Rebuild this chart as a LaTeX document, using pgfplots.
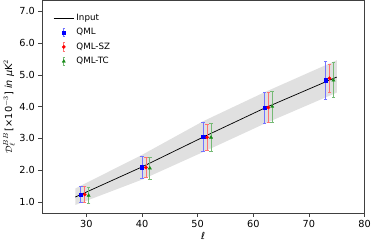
\documentclass[border=0pt]{standalone}
\usepackage{pgfplots}
\pgfplotsset{compat=1.18}
\usepackage{fontspec}
\setmainfont{DejaVu Sans}
\definecolor{bandgray}{gray}{0.88}
\definecolor{qgreen}{rgb}{0.1,0.55,0.1}
\colorlet{eblue}{blue!55!white}
\colorlet{ered}{red!55!white}
\colorlet{egreen}{qgreen!60!white}
\pgfplotsset{
  ebarlegend/.style={
    legend image code/.code={
      \draw[draw=#1, line width=0.8pt] (0.35cm,-4pt)--(0.35cm,4pt);
      \draw[draw=#1, line width=0.6pt] (0.31cm,-4pt)--(0.39cm,-4pt) (0.31cm,4pt)--(0.39cm,4pt);
      \draw[mark repeat=2,mark phase=2,##1] plot coordinates {(0cm,0cm)(0.35cm,0cm)(0.7cm,0cm)};
    }
  },
  ebarline/.style={draw=#1, line width=0.8pt, forget plot, unbounded coords=jump},
  ebarcap/.style={only marks, mark=-, mark size=1.7pt, mark options={draw=#1, line width=0.6pt}, forget plot},
}
\begin{document}
\fontsize{9.5}{11}\selectfont
\begin{tikzpicture}
\begin{axis}[
  width=315pt, height=208pt, scale only axis,
  xmin=22, xmax=80, ymin=0.64, ymax=7.35,
  xtick={30,40,...,80}, ytick={1,2,...,7},
  yticklabel style={/pgf/number format/.cd, fixed, fixed zerofill, precision=1},
  /pgf/number format/assume math mode=true,
  ticklabel style={font=\fontsize{9.5}{11}\selectfont},
  tick align=outside, tick pos=left,
  major tick length=3.5pt,
  axis line style={black!75},
  every tick/.style={black!75, line width=0.6pt},
  xlabel={\textit{ℓ}},
  ylabel={$\mathcal{D}_{\ell}^{BB}$\,[×10$^{-3}$] \textit{in} \textit{μ}K$^2$},
  xlabel style={yshift=2pt},
  ylabel style={yshift=-2pt},
  label style={font=\fontsize{9.5}{11}\selectfont},
  legend style={draw=none, fill=none, at={(0.025,0.955)}, anchor=north west,
    font=\fontsize{8.5}{10}\selectfont, row sep=2.4pt},
  legend cell align=left,
]
% uncertainty band
\addplot[fill=bandgray, draw=none, forget plot] coordinates {
  (28,1.42) (40,2.48) (51,3.54) (62,4.45) (75,5.46)
  (75,4.44) (62,3.46) (51,2.57) (40,1.70) (28,0.90)} -- cycle;
% input
\addplot[black, line width=0.7pt, legend image code/.code={\draw[black,line width=0.7pt] (0cm,0cm)--(0.7cm,0cm);}]
  coordinates {(28,1.15) (40,2.10) (51,3.04) (62,3.95) (75,4.93)};
\addlegendentry{Input}
% error bars: QML
\addplot[ebarline=eblue] coordinates {(29,0.98)(29,1.48)(29,nan)(40,1.74)(40,2.44)(40,nan)(51,2.60)(51,3.50)(51,nan)(62,3.46)(62,4.46)(62,nan)(73,4.23)(73,5.43)};
\addplot[ebarcap=eblue] coordinates {(29,0.98)(29,1.48)(40,1.74)(40,2.44)(51,2.60)(51,3.50)(62,3.46)(62,4.46)(73,4.23)(73,5.43)};
% error bars: QML-SZ
\addplot[ebarline=ered] coordinates {(29.7,0.97)(29.7,1.49)(29.7,nan)(40.7,1.76)(40.7,2.40)(40.7,nan)(51.7,2.61)(51.7,3.45)(51.7,nan)(62.7,3.49)(62.7,4.45)(62.7,nan)(73.7,4.44)(73.7,5.34)};
\addplot[ebarcap=ered] coordinates {(29.7,0.97)(29.7,1.49)(40.7,1.76)(40.7,2.40)(51.7,2.61)(51.7,3.45)(62.7,3.49)(62.7,4.45)(73.7,4.44)(73.7,5.34)};
% error bars: QML-TC
\addplot[ebarline=egreen] coordinates {(30.4,0.95)(30.4,1.45)(30.4,nan)(41.4,1.72)(41.4,2.40)(41.4,nan)(52.4,2.58)(52.4,3.48)(52.4,nan)(63.4,3.52)(63.4,4.48)(63.4,nan)(74.4,4.28)(74.4,5.38)};
\addplot[ebarcap=egreen] coordinates {(30.4,0.95)(30.4,1.45)(41.4,1.72)(41.4,2.40)(52.4,2.58)(52.4,3.48)(63.4,3.52)(63.4,4.48)(74.4,4.28)(74.4,5.38)};
% markers
\addplot[only marks, mark=square*, mark size=1.5pt, color=blue, ebarlegend=eblue]
  coordinates {(29,1.23)(40,2.09)(51,3.05)(62,3.96)(73,4.83)};
\addlegendentry{QML}
\addplot[only marks, mark=*, mark size=1.6pt, color=red, ebarlegend=ered]
  coordinates {(29.7,1.23)(40.7,2.08)(51.7,3.03)(62.7,3.97)(73.7,4.89)};
\addlegendentry{QML-SZ}
\addplot[only marks, mark=triangle*, mark size=1.8pt, color=qgreen, ebarlegend=egreen]
  coordinates {(30.4,1.20)(41.4,2.06)(52.4,3.03)(63.4,4.00)(74.4,4.83)};
\addlegendentry{QML-TC}
\end{axis}
\end{tikzpicture}
\end{document}
